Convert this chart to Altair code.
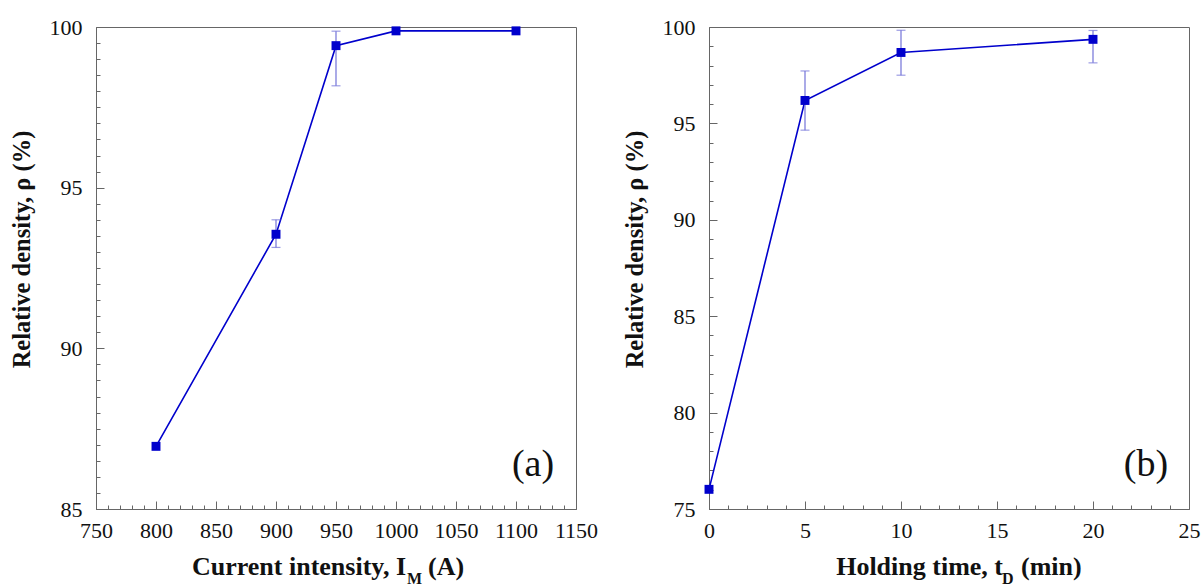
import altair as alt
import pandas as pd

# ---------------- data ----------------
# Panel (a): relative density vs current intensity
a_current = [800, 900, 950, 1000, 1100]
a_density = [86.95, 93.55, 99.42, 99.88, 99.88]
a_err_current = [900, 950]
a_err_low = [93.14, 98.17]
a_err_high = [94.0, 99.87]

# Panel (b): relative density vs holding time
b_time = [0, 5, 10, 20]
b_density = [76.02, 96.19, 98.68, 99.36]
b_err_time = [5, 10, 20]
b_err_low = [94.65, 97.5, 98.14]
b_err_high = [97.72, 99.83, 99.82]

# axis tick values
a_x_major = [750, 800, 850, 900, 950, 1000, 1050, 1100, 1150]
a_x_minor = list(range(750, 1151, 10))
a_y_major = [85, 90, 95, 100]
a_y_minor = [85 + 0.5 * i for i in range(31)]
b_x_major = [0, 5, 10, 15, 20, 25]
b_x_minor = list(range(0, 26))
b_y_major = [75, 80, 85, 90, 95, 100]
b_y_minor = list(range(75, 101))

SERIF = "Liberation Serif, Times New Roman, serif"
BLUE = "#0000cc"
ERR = "#7272d8"
GRID = "#666666"
W, H = 480, 482


def panel(xs, ys, ex, elo, ehi, xdom, ydom, xmaj, xmin, ymaj, ymin,
          tag, tmain, tsub, tend, tmain_x, tsub_x, tend_x):
    df = pd.DataFrame({"x": xs, "y": ys})
    edf = pd.DataFrame({"x": ex, "lo": elo, "hi": ehi})
    xs_ = alt.Scale(domain=xdom, nice=False, zero=False)
    ys_ = alt.Scale(domain=ydom, nice=False, zero=False)

    xmajor_axis = alt.Axis(values=xmaj, orient="bottom", tickSize=8, offset=-8,
                           domain=False, grid=False, labelFont=SERIF,
                           labelFontSize=22, labelColor="#111111", format="d",
                           tickColor=GRID, labelPadding=11, title=None,
                           labelFlush=False, labelOverlap=False)
    ymajor_axis = alt.Axis(values=ymaj, orient="left", tickSize=8, offset=-8,
                           domain=False, grid=False, labelFont=SERIF,
                           labelFontSize=22, labelColor="#111111", format="d",
                           tickColor=GRID, labelPadding=14,
                           title="Relative density, ρ (%)", titleFont=SERIF,
                           titleFontSize=24.5, titleFontWeight="bold",
                           titleColor="#111111", titleAngle=270,
                           titleBaseline="middle", titleAlign="center",
                           titleX=-82, titleY=222,
                           labelFlush=False, labelOverlap=False)
    xminor_axis = alt.Axis(values=xmin, orient="bottom", tickSize=4, offset=-4,
                           domain=False, grid=False, labels=False, title=None,
                           tickColor=GRID)
    yminor_axis = alt.Axis(values=ymin, orient="left", tickSize=4, offset=-4,
                           domain=False, grid=False, labels=False, title=None,
                           tickColor=GRID)

    line = alt.Chart(df).mark_line(color=BLUE, strokeWidth=1.6).encode(
        x=alt.X("x:Q", scale=xs_, axis=xmajor_axis),
        y=alt.Y("y:Q", scale=ys_, axis=ymajor_axis),
    )
    minor = alt.Chart(df).mark_point(opacity=0).encode(
        x=alt.X("x:Q", scale=xs_, axis=xminor_axis),
        y=alt.Y("y:Q", scale=ys_, axis=yminor_axis),
    )
    err = alt.Chart(edf).mark_errorbar(color=ERR, thickness=1.2,
                                       ticks={"size": 9}).encode(
        x=alt.X("x:Q", scale=xs_, axis=None),
        y=alt.Y("lo:Q", scale=ys_, axis=None),
        y2="hi:Q",
    )
    pts = alt.Chart(df).mark_square(color=BLUE, size=80, opacity=1).encode(
        x=alt.X("x:Q", scale=xs_, axis=None),
        y=alt.Y("y:Q", scale=ys_, axis=None),
    )
    one = pd.DataFrame({"k": [0]})
    tag_t = alt.Chart(one).mark_text(text=tag, font=SERIF, fontSize=38,
                                     align="center", baseline="middle",
                                     color="#111111").encode(
        x=alt.value(437), y=alt.value(438))
    t1 = alt.Chart(one).mark_text(text=tmain, font=SERIF, fontSize=26,
                                  fontWeight="bold", align="right",
                                  baseline="alphabetic", color="#111111").encode(
        x=alt.value(tmain_x), y=alt.value(548))
    t2 = alt.Chart(one).mark_text(text=tsub, font=SERIF, fontSize=16,
                                  fontWeight="bold", align="left",
                                  baseline="alphabetic", color="#111111").encode(
        x=alt.value(tsub_x), y=alt.value(557))
    t3 = alt.Chart(one).mark_text(text=tend, font=SERIF, fontSize=26,
                                  fontWeight="bold", align="left",
                                  baseline="alphabetic", color="#111111").encode(
        x=alt.value(tend_x), y=alt.value(548))
    return alt.layer(line, err, pts, minor, tag_t, t1, t2, t3).resolve_axis(
        x="independent", y="independent").properties(width=W, height=H)


pa = panel(a_current, a_density, a_err_current, a_err_low, a_err_high,
           [750, 1150], [85, 100], a_x_major, a_x_minor, a_y_major, a_y_minor,
           "(a)", "Current intensity, I", "M", "(A)", 310, 311, 332)
pb = panel(b_time, b_density, b_err_time, b_err_low, b_err_high,
           [0, 25], [75, 100], b_x_major, b_x_minor, b_y_major, b_y_minor,
           "(b)", "Holding time, t", "D", "(min)", 294, 293, 312)

chart = alt.hconcat(pa, pb, spacing=133, bounds="flush").properties(
    padding={"left": 8, "top": 15, "right": 0, "bottom": 0},
    background="white",
).configure_view(stroke=GRID, strokeWidth=1)

chart.save("out.html", embed_options={"renderer": "svg", "actions": False})
